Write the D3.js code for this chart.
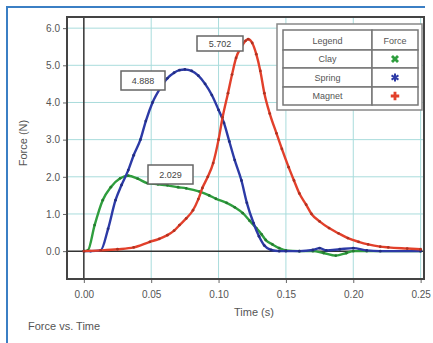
<!DOCTYPE html>
<html><head><meta charset="utf-8">
<script src="https://cdn.jsdelivr.net/npm/d3@7"></script>
<style>body{margin:0;background:#fff;}svg{display:block;font-family:"Liberation Sans",Arial,sans-serif;}</style>
</head><body>
<svg id="c" width="433" height="343"></svg>
<script>
// ---- data ----
const clayT = [0,0.003,0.008,0.014,0.02,0.027,0.033,0.04,0.047,0.055,0.062,0.07,0.076,0.086,0.093,0.098,0.106,0.112,0.118,0.123,0.128,0.132,0.135,0.14,0.145,0.15,0.16,0.17,0.178,0.187,0.195,0.2,0.21,0.25];
const clayF = [0,0.02,0.7,1.37,1.72,1.96,2.029,1.95,1.83,1.8,1.77,1.72,1.69,1.6,1.5,1.41,1.3,1.18,1.02,0.82,0.62,0.45,0.3,0.18,0.08,0.02,0,0,-0.05,-0.12,-0.05,0,0,0];
const springT = [0,0.005,0.0125,0.018,0.0235,0.028,0.033,0.037,0.042,0.046,0.051,0.057,0.062,0.067,0.071,0.075,0.08,0.085,0.09,0.095,0.1,0.104,0.108,0.112,0.117,0.121,0.126,0.13,0.134,0.139,0.145,0.15,0.16,0.17,0.175,0.18,0.19,0.2,0.21,0.22,0.25];
const springF = [0,0,0.02,0.6,1.37,1.78,2.18,2.58,3.0,3.5,4.0,4.4,4.65,4.8,4.87,4.888,4.85,4.72,4.5,4.2,3.8,3.45,2.95,2.45,1.9,1.3,0.75,0.4,0.15,0.03,0,0,0,0.03,0.08,0.02,0.05,0.08,0.02,0,0];
const magnetT = [0,0.0125,0.025,0.037,0.049,0.056,0.062,0.067,0.071,0.076,0.081,0.085,0.088,0.092,0.096,0.1,0.103,0.107,0.11,0.113,0.117,0.12,0.122,0.125,0.128,0.131,0.134,0.138,0.143,0.147,0.152,0.156,0.16,0.165,0.169,0.175,0.182,0.189,0.196,0.204,0.211,0.22,0.226,0.24,0.25];
const magnetF = [0,0.02,0.05,0.1,0.25,0.33,0.43,0.55,0.7,0.88,1.1,1.4,1.7,2.0,2.37,3.0,3.6,4.25,4.75,5.2,5.5,5.66,5.702,5.6,5.3,4.85,4.25,3.7,3.17,2.75,2.26,1.9,1.55,1.25,1.0,0.8,0.62,0.48,0.35,0.25,0.18,0.12,0.1,0.07,0.05];
const xTicks = [0,0.05,0.10,0.15,0.20,0.25];
const yTicks = [0,1,2,3,4,5,6];
const seriesNames = ["Clay","Spring","Magnet"];
const seriesColors = ["#2f9e3e","#2c3aa6","#e2402b"];
const peakLabels = ["2.029","4.888","5.702"];

// ---- layout ----
const svg = d3.select("#c");
const L=67, R=424, T=17, B=279;
const x = d3.scaleLinear().domain([-0.0125,0.2525]).range([L,R]);
const y = d3.scaleLinear().domain([-0.75,6.3]).range([B,T]);

// outer blue frame
svg.append("path").attr("d","M7,343 L7,7 L425,7").attr("fill","none").attr("stroke","#3b7fc4").attr("stroke-width",2);

// grid
const grid = svg.append("g");
xTicks.filter(d=>d!==0).forEach(d=>grid.append("line").attr("x1",x(d)).attr("x2",x(d)).attr("y1",T).attr("y2",B).attr("stroke","#a9dcdc").attr("stroke-width",1));
yTicks.filter(d=>d!==0).forEach(d=>grid.append("line").attr("x1",L).attr("x2",R).attr("y1",y(d)).attr("y2",y(d)).attr("stroke","#a9dcdc").attr("stroke-width",1));
grid.append("line").attr("x1",x(0)).attr("x2",x(0)).attr("y1",T).attr("y2",B).attr("stroke","#333").attr("stroke-width",1.5);
grid.append("line").attr("x1",L).attr("x2",R).attr("y1",y(0)).attr("y2",y(0)).attr("stroke","#333").attr("stroke-width",1.5);

// axes
const yAxis = d3.axisLeft(y).tickValues(yTicks).tickFormat(d3.format(".1f")).tickSize(4).tickPadding(3);
const xAxis = d3.axisBottom(x).tickValues(xTicks).tickFormat(d3.format(".2f")).tickSize(4).tickPadding(8);
const gy = svg.append("g").attr("transform",`translate(${L},0)`).call(yAxis);
const gx = svg.append("g").attr("transform",`translate(0,${B})`).call(xAxis);
[gy,gx].forEach(g=>{g.select(".domain").remove();g.selectAll("line").attr("stroke","#666");g.selectAll("text").attr("fill","#555").style("font-size","10px");});

// series
const sets = [[clayT,clayF],[springT,springF],[magnetT,magnetF]];
const line = d3.line().x(d=>x(d[0])).y(d=>y(d[1])).curve(d3.curveMonotoneX);
sets.forEach((s,i)=>{
  const pts = s[0].map((t,j)=>[t,s[1][j]]);
  svg.append("path").datum(pts).attr("d",line).attr("fill","none").attr("stroke",seriesColors[i]).attr("stroke-width",2.4).attr("stroke-linejoin","round");
  svg.append("g").selectAll("circle").data(pts).join("circle").attr("cx",d=>x(d[0])).attr("cy",d=>y(d[1])).attr("r",1.4).attr("fill",d3.color(seriesColors[i]).darker(0.7));
});

// frame
svg.append("rect").attr("x",L).attr("y",T).attr("width",R-L).attr("height",B-T).attr("fill","none").attr("stroke","#444").attr("stroke-width",2);

// peak labels
const boxPos = [[148,165,45,19],[121,71,44,19],[197,36,46,15]];
sets.forEach((s,i)=>{
  const [bx,by,bw,bh] = boxPos[i];
  svg.append("rect").attr("x",bx).attr("y",by).attr("width",bw).attr("height",bh).attr("fill","#fff").attr("stroke","#666").attr("stroke-width",1.5);
  svg.append("text").attr("x",bx+bw/2).attr("y",by+bh/2+3).attr("text-anchor","middle").attr("fill","#444").style("font-size","9px").text(peakLabels[i]);
});

// legend
const lg = svg.append("g");
lg.append("rect").attr("x",277).attr("y",24).attr("width",145).attr("height",86).attr("fill","#fff").attr("stroke","#888").attr("stroke-width",1.5);
const rowsY=[30,50,68,87,105], colX=[283,372,418];
for(let r=0;r<4;r++){
  for(let c=0;c<2;c++){
    lg.append("rect").attr("x",colX[c]).attr("y",rowsY[r]).attr("width",colX[c+1]-colX[c]).attr("height",rowsY[r+1]-rowsY[r]).attr("fill","#fff").attr("stroke","#777").attr("stroke-width",1.5);
  }
}
lg.append("text").attr("x",(colX[0]+colX[1])/2).attr("y",43.5).attr("text-anchor","middle").attr("fill","#555").style("font-size","9px").text("Legend");
lg.append("text").attr("x",(colX[1]+colX[2])/2).attr("y",43.5).attr("text-anchor","middle").attr("fill","#555").style("font-size","9px").text("Force");
seriesNames.forEach((n,i)=>{
  const cy=(rowsY[i+1]+rowsY[i+2])/2;
  lg.append("text").attr("x",(colX[0]+colX[1])/2).attr("y",cy+3).attr("text-anchor","middle").attr("fill","#555").style("font-size","9px").text(n);
  const g = lg.append("g").attr("transform",`translate(${(colX[1]+colX[2])/2},${cy})`);
  if(i===1){
    g.append("path").attr("d",d3.symbol().type(d3.symbolAsterisk).size(45)()).attr("fill","none").attr("stroke",seriesColors[i]).attr("stroke-width",2);
  } else {
    g.append("path").attr("d",d3.symbol().type(d3.symbolCross).size(40)()).attr("transform",`rotate(${i===0?45:0})`).attr("fill",seriesColors[i]);
  }
});

// titles
svg.append("text").attr("transform","translate(27,143) rotate(-90)").attr("text-anchor","middle").attr("fill","#555").style("font-size","11px").text("Force (N)");
svg.append("text").attr("x",254).attr("y",316).attr("text-anchor","middle").attr("fill","#555").style("font-size","11px").text("Time (s)");
svg.append("text").attr("x",28).attr("y",330).attr("fill","#555").style("font-size","11px").text("Force vs. Time");
</script>
</body></html>
